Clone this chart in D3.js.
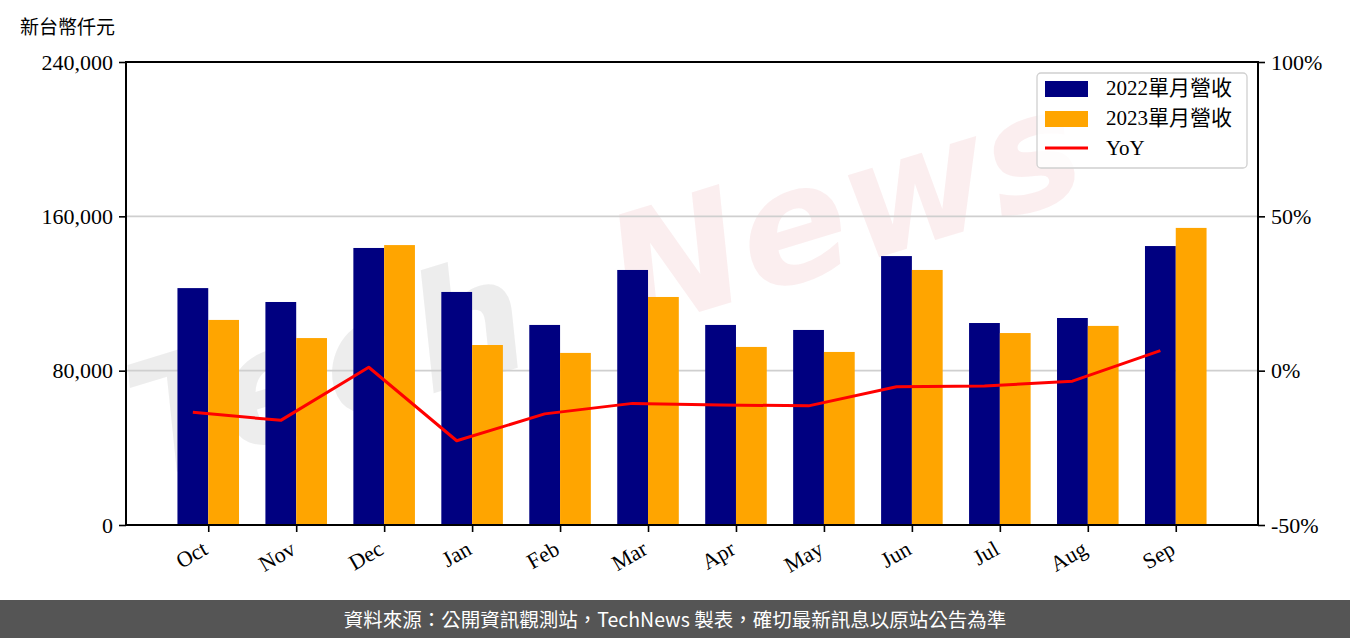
<!DOCTYPE html>
<html><head><meta charset="utf-8">
<script src="https://cdn.jsdelivr.net/npm/d3@7"></script>
<style>
body{margin:0;background:#fff;}
svg{display:block;}
</style></head>
<body>
<svg id="chart" width="1350" height="638"></svg>
<script>
const months = ["Oct","Nov","Dec","Jan","Feb","Mar","Apr","May","Jun","Jul","Aug","Sep"];
const rev2022 = [122800,115600,143600,120800,103700,132200,103700,101100,139400,104700,107300,144600];
const rev2023 = [106300,96900,145100,93300,89200,118200,92300,89700,132200,99500,103200,154000];
const yoy = [-13.5,-16.1,1.1,-22.7,-14.0,-10.6,-11.1,-11.4,-5.2,-5.0,-3.4,6.5];
const leftTicks = [0,80000,160000,240000];
const rightTicks = [-50,0,50,100];
const seriesNames = ["2022單月營收","2023單月營收","YoY"];

const svg = d3.select("#chart");
const L=126, R=1258, T=62, B=525;
const serif = "'Liberation Serif','DejaVu Serif',serif";
const cjk = "'Noto Sans CJK TC','Noto Sans CJK SC',sans-serif";

const x = d3.scaleLinear().domain([-0.935, months.length - 1 + 0.935]).range([L, R]);
const y = d3.scaleLinear().domain([0,240000]).range([B, T]);
const y2 = d3.scaleLinear().domain([-50,100]).range([B, T]);
const bw = 0.35;

// watermark
const wm = svg.append("g").attr("transform","translate(150,480) rotate(-17)");
wm.append("text").attr("x",0).attr("y",0).attr("font-family","'DejaVu Sans',sans-serif")
  .attr("font-style","italic").attr("font-weight","bold").attr("font-size",160)
  .attr("fill","rgba(190,190,190,0.28)").text("Tech");
wm.append("text").attr("x",500).attr("y",0).attr("font-family","'DejaVu Sans',sans-serif")
  .attr("font-style","italic").attr("font-weight","bold").attr("font-size",160)
  .attr("fill","rgba(225,120,130,0.13)").text("News");

// grid
svg.append("g").selectAll("line").data([80000,160000]).join("line")
  .attr("x1",L).attr("x2",R).attr("y1",d=>y(d)).attr("y2",d=>y(d))
  .attr("stroke","#cfcfcf").attr("stroke-width",1.6);

// bars
svg.append("g").selectAll("rect").data(rev2022).join("rect")
  .attr("x",(d,i)=>x(i-bw)).attr("width",(d,i)=>x(i)-x(i-bw))
  .attr("y",d=>y(d)).attr("height",d=>y(0)-y(d)).attr("fill","#000080");
svg.append("g").selectAll("rect").data(rev2023).join("rect")
  .attr("x",(d,i)=>x(i)).attr("width",(d,i)=>x(i+bw)-x(i))
  .attr("y",d=>y(d)).attr("height",d=>y(0)-y(d)).attr("fill","#FFA500");

// YoY line
const line = d3.line().x((d,i)=>x(i-bw/2)).y(d=>y2(d));
svg.append("path").datum(yoy).attr("d",line).attr("fill","none")
  .attr("stroke","#ff0000").attr("stroke-width",3).attr("stroke-linejoin","round");

// axes
const fmt = d3.format(",");
const ax = svg.append("g").attr("transform",`translate(${L},0)`)
  .call(d3.axisLeft(y).tickValues(leftTicks).tickFormat(fmt).tickSize(7).tickPadding(6));
const ax2 = svg.append("g").attr("transform",`translate(${R},0)`)
  .call(d3.axisRight(y2).tickValues(rightTicks).tickFormat(d=>d+"%").tickSize(7).tickPadding(6));
const axb = svg.append("g").attr("transform",`translate(0,${B})`)
  .call(d3.axisBottom(x).tickValues(d3.range(months.length)).tickFormat(i=>months[i]).tickSize(7).tickPadding(4));
[ax,ax2,axb].forEach(a=>{
  a.select(".domain").remove();
  a.selectAll(".tick line").attr("stroke","#000").attr("stroke-width",1.6);
  a.selectAll(".tick text").attr("font-family",serif).attr("font-size",22).attr("fill","#000");
});
axb.selectAll(".tick text").attr("text-anchor","end").attr("dy","0.35em")
  .attr("transform","translate(-9,12) rotate(-30)");

// spines
svg.append("rect").attr("x",L).attr("y",T).attr("width",R-L).attr("height",B-T)
  .attr("fill","none").attr("stroke","#000").attr("stroke-width",2);

// legend
const lg = svg.append("g");
lg.append("rect").attr("x",1037).attr("y",73).attr("width",210).attr("height",95).attr("rx",4)
  .attr("fill","rgba(255,255,255,0.8)").attr("stroke","#d0d0d0").attr("stroke-width",1.3);
const rows = [88,118,148];
lg.append("rect").attr("x",1045).attr("y",81).attr("width",43).attr("height",16).attr("fill","#000080");
lg.append("rect").attr("x",1045).attr("y",111).attr("width",43).attr("height",16).attr("fill","#FFA500");
lg.append("line").attr("x1",1045).attr("x2",1088).attr("y1",148).attr("y2",148)
  .attr("stroke","#ff0000").attr("stroke-width",3);
lg.selectAll("text.lt").data(seriesNames).join("text").attr("class","lt")
  .attr("x",1106).attr("y",(d,i)=>rows[i]).attr("dy","0.35em")
  .attr("font-family",serif+","+cjk).attr("font-size",21).attr("fill","#000").text(d=>d);

// unit label
svg.append("text").attr("x",20).attr("y",27).attr("dy","0.35em")
  .attr("font-family",cjk).attr("font-size",19).attr("fill","#000").text("新台幣仟元");

// footer
svg.append("rect").attr("x",0).attr("y",600).attr("width",1350).attr("height",38).attr("fill","#555555");
svg.append("text").attr("x",675).attr("y",620).attr("dy","0.35em").attr("text-anchor","middle")
  .attr("font-family",cjk).attr("font-size",19.5).attr("fill","#fff")
  .text("資料來源：公開資訊觀測站，TechNews 製表，確切最新訊息以原站公告為準");
</script>
</body></html>
